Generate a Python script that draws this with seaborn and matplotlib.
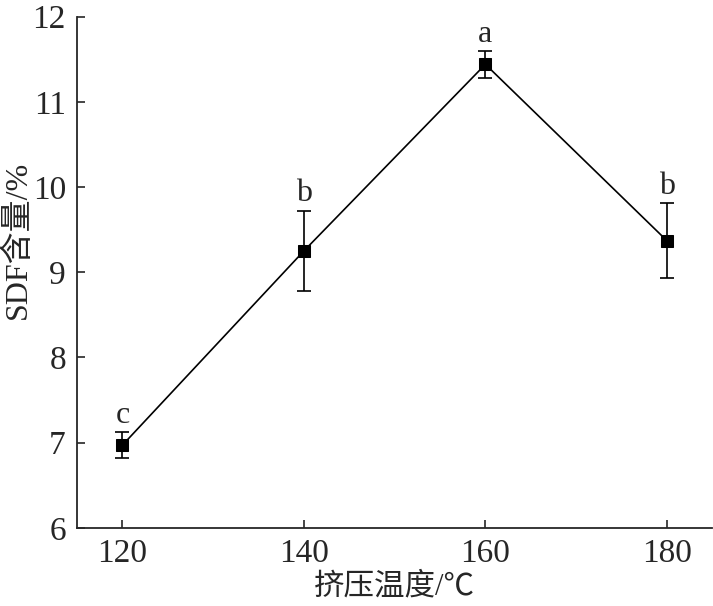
import pandas as pd
import seaborn as sns
import matplotlib.pyplot as plt

# data
temps = [120, 140, 160, 180]
sdf = [6.97, 9.25, 11.44, 9.37]
sdf_err = [0.15, 0.47, 0.155, 0.44]
letters = ['c', 'b', 'a', 'b']

df = pd.DataFrame({'temp': temps, 'sdf': sdf, 'err': sdf_err, 'sig': letters})

sns.set_style('ticks')
plt.rcParams['font.family'] = ['Liberation Serif', 'Noto Sans CJK SC']

fig = plt.figure(figsize=(7.13, 6.06), dpi=100)
ax = fig.add_axes([0.108, 0.129, 0.891, 0.8436])

sns.lineplot(data=df, x='temp', y='sdf', color='black', linewidth=1.2,
             marker='s', markersize=8, markeredgecolor='black', ax=ax)
ax.errorbar(df['temp'], df['sdf'], yerr=df['err'], fmt='none',
            ecolor='black', elinewidth=1.2, capsize=5, capthick=1.2)

# significance letters above error bars
for x, y, e, s in zip(df['temp'], df['sdf'], df['err'], df['sig']):
    ax.text(x, y + e + 0.03, s, ha='center', va='bottom', fontsize=23)

ax.set_xlim(115, 185)
ax.set_ylim(6, 12)
ax.set_xticks([120, 140, 160, 180])
ax.set_yticks(range(6, 13))
ax.tick_params(direction='in', length=6, width=1.2, labelsize=24, pad=8)
for sp in ['top', 'right']:
    ax.spines[sp].set_visible(False)
for sp in ['left', 'bottom']:
    ax.spines[sp].set_linewidth(1.3)

ax.set_xlabel('挤压温度/℃', fontsize=22, labelpad=2)
ax.set_ylabel('SDF含量/%', fontsize=23)
ax.yaxis.set_label_coords(-0.07, 0.563)

fig.savefig('out.png', dpi=100)
